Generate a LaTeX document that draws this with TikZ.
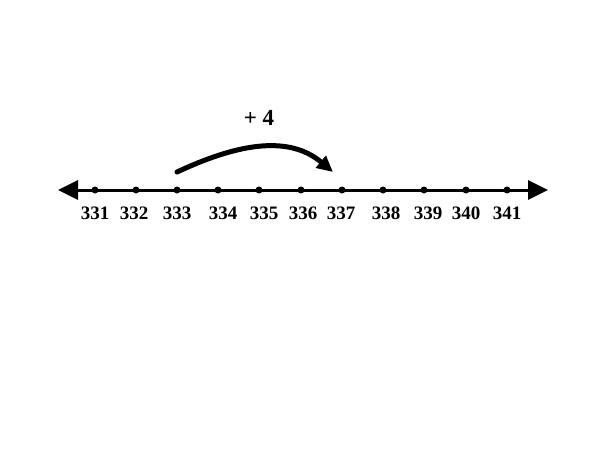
\documentclass[tikz,border=0pt]{standalone}
\usepackage{fontspec}
\setmainfont{Liberation Serif}
\usetikzlibrary{arrows.meta}

\begin{document}
\begin{tikzpicture}[x=1pt,y=-1pt]

      \useasboundingbox (0,0) rectangle (600,450);

      \coordinate (L) at (58,190);
      \coordinate (R) at (548,190);
      \draw[line width=3pt,{Triangle[length=20pt,width=19pt]}-{Triangle[length=20pt,width=19pt]}] (L) -- (R);

      \begin{scope}[every node/.style={circle,fill,inner sep=0pt,minimum size=7pt}]
        \node (331) at (95,190)  {};
        \node (332) at (136,190) {};
        \node (333) at (177,190) {};
        \node (334) at (218,190) {};
        \node (335) at (259,190) {};
        \node (336) at (301,190) {};
        \node (337) at (342,190) {};
        \node (338) at (383,190) {};
        \node (339) at (424,190) {};
        \node (340) at (466,190) {};
        \node (341) at (507,190) {};
      \end{scope}

      \begin{scope}[every node/.style={font=\fontsize{19}{21}\selectfont\bfseries,inner sep=0pt}]
        \node (l331) at (95,213)  {331};
        \node (l332) at (134,213) {332};
        \node (l333) at (177,213) {333};
        \node (l334) at (223,213) {334};
        \node (l335) at (264,213) {335};
        \node (l336) at (303,213) {336};
        \node (l337) at (341,213) {337};
        \node (l338) at (386,213) {338};
        \node (l339) at (428,213) {339};
        \node (l340) at (466,213) {340};
        \node (l341) at (507,213) {341};
        \node[font=\fontsize{23}{25}\selectfont\bfseries] (jump) at (259,118) {+ 4};
      \end{scope}

      \coordinate (from) at ([yshift=18pt]333.center);
      \coordinate (to) at ([xshift=-9pt,yshift=18pt]337.center);
      \draw[line width=5pt,line cap=round,-{Triangle[length=16pt,width=15pt]}]
        (from) to[out=25,in=140] (to);

    \end{tikzpicture}
\end{document}
